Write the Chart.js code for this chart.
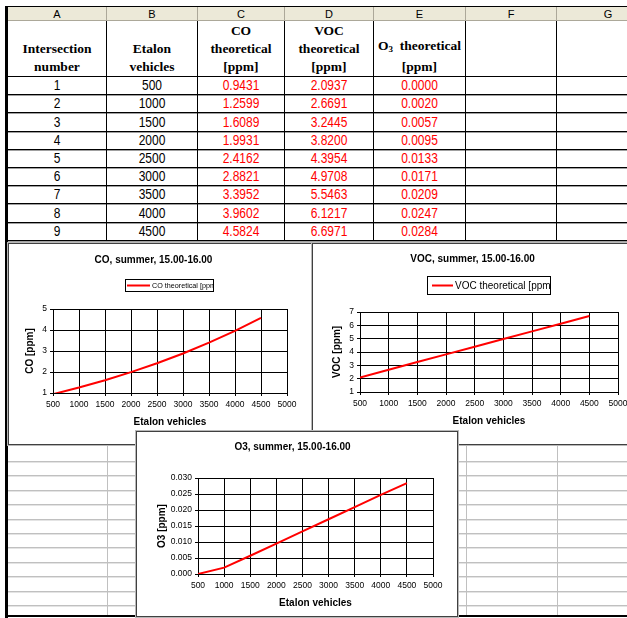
<!DOCTYPE html>
<html>
<head>
<meta charset="utf-8">
<script src="https://cdn.jsdelivr.net/npm/chart.js@4.4.0/dist/chart.umd.min.js"></script>
<style>
body { margin:0; width:627px; height:618px; overflow:hidden; position:relative; background:#fff; font-family:"Liberation Sans", Arial, sans-serif; }
.cell { position:absolute; box-sizing:border-box; text-align:center; }
.letter { background:#ece9d8; border-right:1px solid #aca899; border-bottom:1px solid #aca899; font-size:11px; line-height:14px; color:#000; }
.head { border-right:1px solid #000; border-bottom:1px solid #000; font-family:"Liberation Serif", "Times New Roman", serif; font-weight:bold; font-size:13.5px; line-height:18px; display:flex; flex-direction:column; justify-content:flex-end; }
.data { border-right:1px solid #000; border-bottom:1px solid #000; box-shadow:0 1px 0 #a0a0a0; font-size:12px; }
.data span { display:inline-block; transform:scaleY(1.15); }
.red { color:#ff0000; }
.line { position:absolute; }
.chartbox { position:absolute; box-sizing:border-box; border:1px solid #404040; outline:1px solid #b8b8b8; background:#fff; }
.chartbox canvas { position:absolute; left:0; top:0; }
</style>
</head>
<body>
<div id="sheet"></div>
<div class="chartbox" style="left:8px;top:243px;width:305px;height:202px"><canvas id="coChart" width="303" height="200"></canvas></div>
<div class="chartbox" style="left:312px;top:243px;width:332px;height:202px"><canvas id="vocChart" width="330" height="200"></canvas></div>
<div class="chartbox" style="left:136px;top:431px;width:322px;height:186px"><canvas id="o3Chart" width="320" height="184"></canvas></div>
<script>
// table / chart data
const columnLetters = ['A', 'B', 'C', 'D', 'E', 'F', 'G'];
const intersections = [1, 2, 3, 4, 5, 6, 7, 8, 9];
const vehicles = [500, 1000, 1500, 2000, 2500, 3000, 3500, 4000, 4500];
const coValues = [0.9431, 1.2599, 1.6089, 1.9931, 2.4162, 2.8821, 3.3952, 3.9602, 4.5824];
const vocValues = [2.0937, 2.6691, 3.2445, 3.8200, 4.3954, 4.9708, 5.5463, 6.1217, 6.6971];
const o3Values = [0.0000, 0.0020, 0.0057, 0.0095, 0.0133, 0.0171, 0.0209, 0.0247, 0.0284];

const FONT = '"Liberation Sans", Arial, sans-serif';

// ---- spreadsheet ----
const sheet = document.getElementById('sheet');
const colEdges = [8, 107, 198, 285, 374, 466, 557, 660];

function addDiv(cls, left, top, width, height, html, style) {
    const d = document.createElement('div');
    d.className = cls;
    d.style.left = left + 'px';
    d.style.top = top + 'px';
    d.style.width = width + 'px';
    d.style.height = height + 'px';
    if (style) d.style.cssText += style;
    if (html) d.innerHTML = html;
    sheet.appendChild(d);
    return d;
}

// grey grid lines below the charts
for (let k = 0; k < 11; k++) {
    const y = Math.round(461 + k * 14.4);
    addDiv('line', 8, y, 620, 1, '', 'background:#c0c0c0');
    addDiv('line', 8, y + 1, 620, 1, '', 'background:#e4e4e4');
}
[107, 466, 557].forEach(x => addDiv('line', x, 445, 1, 172, '', 'background:#c0c0c0'));

// column letters
columnLetters.forEach((c, i) => {
    addDiv('cell letter', colEdges[i], 7, colEdges[i + 1] - colEdges[i], 14, c);
});

// header row
const headers = [
    ['Intersection', 'number'],
    ['Etalon', 'vehicles'],
    ['CO', 'theoretical', '[ppm]'],
    ['VOC', 'theoretical', '[ppm]'],
    ['O<sub style="font-size:9px;vertical-align:-2px">3</sub>&nbsp; theoretical', '[ppm]'],
    [],
    []
];
headers.forEach((lines, i) => {
    const html = lines.map(t => '<div style="white-space:nowrap">' + t + '</div>').join('');
    addDiv('cell head', colEdges[i], 21, colEdges[i + 1] - colEdges[i], 56, html);
});

// data rows
const rowTop = i => Math.round(77 + i * 18.2);
intersections.forEach((n, r) => {
    const top = rowTop(r);
    const h = rowTop(r + 1) - top;
    const vals = [
        [String(n), ''],
        [String(vehicles[r]), ''],
        [coValues[r].toFixed(4), 'red'],
        [vocValues[r].toFixed(4), 'red'],
        [o3Values[r].toFixed(4), 'red'],
        ['', ''],
        ['', '']
    ];
    vals.forEach((v, i) => {
        addDiv('cell data ' + v[1], colEdges[i], top, colEdges[i + 1] - colEdges[i], h,
            '<span>' + v[0] + '</span>', 'line-height:' + (h - 1) + 'px');
    });
});

// outer frame
addDiv('line', 5, 6, 625, 1, '', 'background:#000');
addDiv('line', 5, 6, 3, 612, '', 'background:#000');
addDiv('line', 5, 615, 625, 2, '', 'background:#000');

// ---- charts ----
const boxLegendPlugin = {
    id: 'boxLegend',
    afterDraw(chart, args, opts) {
        const ctx = chart.ctx;
        const ds = chart.data.datasets[0];
        ctx.save();
        ctx.fillStyle = '#fff';
        ctx.fillRect(opts.x, opts.y, opts.w, opts.h);
        ctx.strokeStyle = '#000';
        ctx.lineWidth = 1;
        ctx.strokeRect(opts.x + 0.5, opts.y + 0.5, opts.w - 1, opts.h - 1);
        const cy = opts.y + opts.h / 2;
        ctx.strokeStyle = ds.borderColor;
        ctx.lineWidth = 2;
        ctx.beginPath();
        ctx.moveTo(opts.lineX1, cy);
        ctx.lineTo(opts.lineX2, cy);
        ctx.stroke();
        ctx.beginPath();
        ctx.rect(opts.x + 1, opts.y + 1, opts.w - 2, opts.h - 2);
        ctx.clip();
        ctx.fillStyle = '#000';
        ctx.font = opts.fontSize + 'px ' + FONT;
        ctx.textBaseline = 'middle';
        ctx.fillText(ds.label, opts.textX, cy + 0.5);
        ctx.restore();
    }
};

function makeChart(id, cfg) {
    const tickFont = { size: 8.5, family: FONT };
    const titleFont = { size: 10, weight: 'bold', family: FONT };
    return new Chart(document.getElementById(id), {
        type: 'line',
        data: {
            datasets: [{
                label: cfg.label,
                data: vehicles.map((v, i) => ({ x: v, y: cfg.values[i] })),
                borderColor: '#ff0000',
                borderWidth: 2,
                pointRadius: 0,
                fill: false,
                tension: 0
            }]
        },
        options: {
            responsive: false,
            animation: false,
            layout: { padding: cfg.pad },
            plugins: {
                legend: { display: false },
                tooltip: { enabled: false },
                title: {
                    display: true,
                    text: cfg.title,
                    color: '#000',
                    font: titleFont,
                    padding: cfg.titlePad
                },
                boxLegend: cfg.legend || false
            },
            scales: {
                x: {
                    type: 'linear',
                    min: 500,
                    max: 5000,
                    ticks: { stepSize: 500, color: '#000', font: tickFont, padding: 4, maxRotation: 0, callback: v => String(v) },
                    grid: { color: '#000', lineWidth: 1, tickLength: 3 },
                    border: { color: '#000' },
                    title: { display: true, text: 'Etalon vehicles', color: '#000', font: titleFont },
                    afterFit: s => { s.height = cfg.xH; }
                },
                y: {
                    min: cfg.yMin,
                    max: cfg.yMax,
                    ticks: { stepSize: cfg.yStep, color: '#000', font: tickFont, padding: 3, callback: cfg.yFmt },
                    grid: { color: '#000', lineWidth: 1, tickLength: 3 },
                    border: { color: '#000' },
                    title: { display: true, text: cfg.yTitle, color: '#000', font: titleFont },
                    afterFit: s => { s.width = cfg.yW; }
                }
            }
        },
        plugins: [boxLegendPlugin]
    });
}

makeChart('coChart', {
    label: 'CO theoretical [ppm]',
    values: coValues,
    title: 'CO, summer, 15.00-16.00',
    titlePad: { top: 10, bottom: 43 },
    pad: { left: 11, right: 25, top: 0, bottom: 12 },
    xH: 39, yW: 33,
    yMin: 1, yMax: 5, yStep: 1, yFmt: v => String(v),
    yTitle: 'CO [ppm]',
    legend: { x: 116, y: 35, w: 89, h: 13, lineX1: 118, lineX2: 141, textX: 143, fontSize: 7.2 }
});

makeChart('vocChart', {
    label: 'VOC theoretical [ppm]',
    values: vocValues,
    title: 'VOC, summer, 15.00-16.00',
    titlePad: { top: 9, bottom: 47 },
    pad: { left: 14, right: 25, top: 0, bottom: 13 },
    xH: 39, yW: 33,
    yMin: 1, yMax: 7, yStep: 1, yFmt: v => String(v),
    yTitle: 'VOC [ppm]',
    legend: { x: 114, y: 32, w: 124, h: 19, lineX1: 119, lineX2: 140, textX: 142, fontSize: 10 }
});

makeChart('o3Chart', {
    label: 'O3 theoretical [ppm]',
    values: o3Values,
    title: 'O3, summer, 15.00-16.00',
    titlePad: { top: 9, bottom: 25 },
    pad: { left: 15, right: 24, top: 0, bottom: 3 },
    xH: 39, yW: 46,
    yMin: 0, yMax: 0.03, yStep: 0.005, yFmt: v => v.toFixed(3),
    yTitle: 'O3 [ppm]'
});
</script>
</body>
</html>
